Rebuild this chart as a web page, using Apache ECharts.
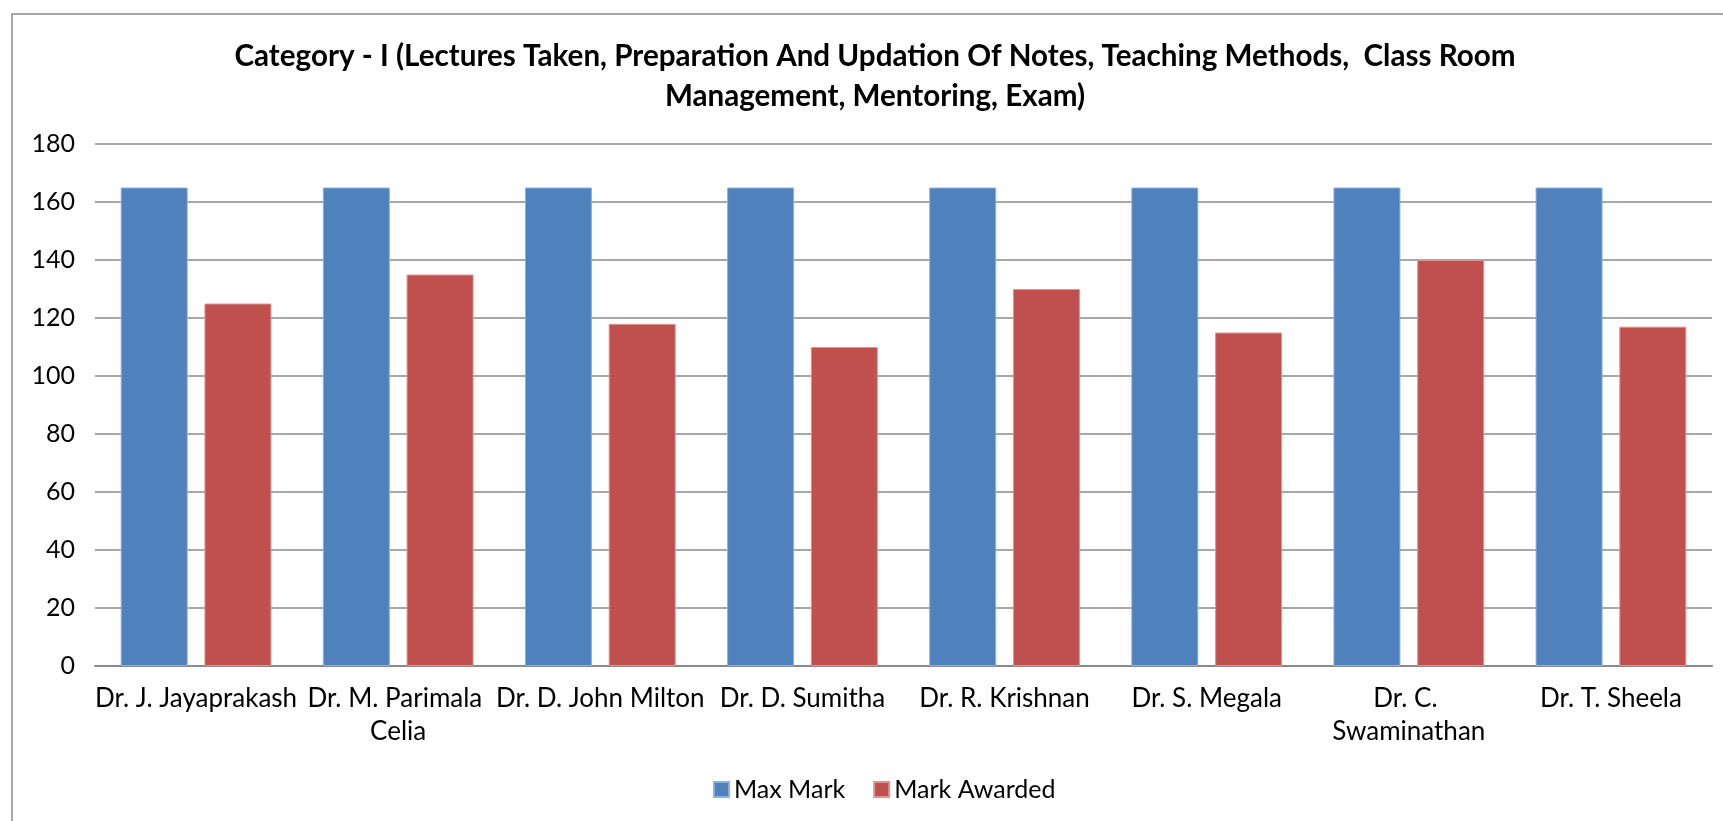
<!DOCTYPE html>
<html>
<head>
<meta charset="utf-8">
<script src="https://cdn.jsdelivr.net/npm/echarts@6/dist/echarts.min.js"></script>
<style>
  html, body { margin: 0; padding: 0; background: #fff; }
  #chart { width: 1723px; height: 821px; }
</style>
</head>
<body>
<div id="chart"></div>
<script>
var titleText = 'Category - I (Lectures Taken, Preparation And Updation Of Notes, Teaching Methods,  Class Room\nManagement, Mentoring, Exam)';
var categories = ['Dr. J. Jayaprakash', 'Dr. M. Parimala Celia', 'Dr. D. John Milton', 'Dr. D. Sumitha',
  'Dr. R. Krishnan', 'Dr. S. Megala', 'Dr. C. Swaminathan', 'Dr. T. Sheela'];
var maxMark = [165, 165, 165, 165, 165, 165, 165, 165];
var markAwarded = [125, 135, 118, 110, 130, 115, 140, 117];
var seriesNames = ['Max Mark', 'Mark Awarded'];

var font = 'Lato, "Open Sans", sans-serif';
var myChart = echarts.init(document.getElementById('chart'));
var option = {
  animation: false,
  textStyle: { fontFamily: font },
  color: ['#4f81bd', '#c0504d'],
  graphic: [{
    type: 'rect',
    shape: { x: 12, y: 14, width: 1760, height: 860 },
    style: { fill: 'none', stroke: '#8c8c8c', lineWidth: 1.5 },
    silent: true
  }],
  title: {
    text: titleText,
    left: 870,
    top: 31,
    textAlign: 'center',
    textStyle: {
      fontFamily: font,
      fontSize: 29.6,
      fontWeight: 'bold',
      color: '#000',
      lineHeight: 40
    }
  },
  legend: {
    data: seriesNames,
    left: 708,
    top: 772,
    icon: 'rect',
    itemWidth: 15,
    itemHeight: 15,
    itemGap: 28,
    textStyle: { fontFamily: font, fontSize: 25, color: '#000' }
  },
  grid: { left: 95, right: 11, top: 144, bottom: 155 },
  xAxis: {
    type: 'category',
    data: categories,
    axisTick: { show: false },
    axisLine: { lineStyle: { color: '#8a8a8a', width: 2 } },
    axisLabel: {
      interval: 0,
      margin: 16,
      color: '#000',
      fontFamily: font,
      fontSize: 26,
      lineHeight: 33,
      width: 212,
      overflow: 'break'
    }
  },
  yAxis: {
    type: 'value',
    min: 0,
    max: 180,
    interval: 20,
    axisLine: { show: false },
    axisTick: { show: false },
    axisLabel: { margin: 20, color: '#000', fontFamily: font, fontSize: 25 },
    splitLine: { lineStyle: { color: '#8a8a8a', width: 1.5 } }
  },
  series: [
    {
      name: seriesNames[0],
      type: 'bar',
      data: maxMark,
      barWidth: 67,
      barGap: '25%',
      itemStyle: { borderColor: '#8fb0d9', borderWidth: 1 }
    },
    {
      name: seriesNames[1],
      type: 'bar',
      data: markAwarded,
      barWidth: 67,
      itemStyle: { borderColor: '#d99694', borderWidth: 1 }
    }
  ]
};
myChart.setOption(option);
</script>
</body>
</html>
